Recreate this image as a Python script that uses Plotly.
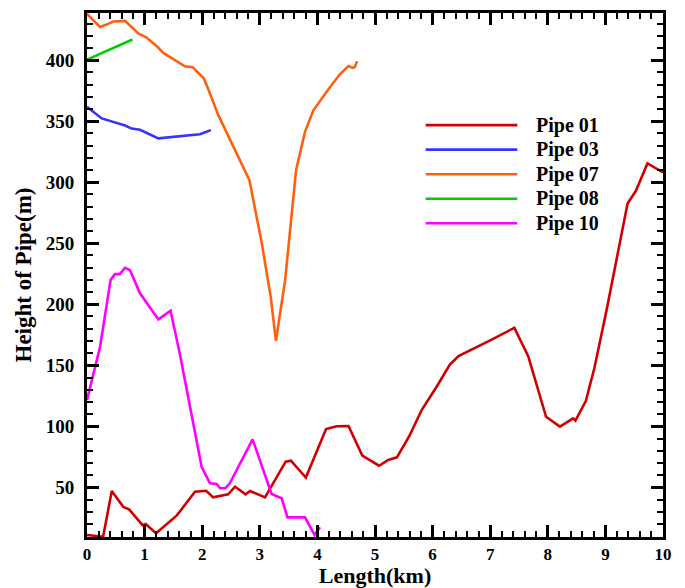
import plotly.graph_objects as go

# ---- data ----
pipe01_x = [0.0, 0.28, 0.43, 0.63, 0.73, 0.965, 1.02, 1.2, 1.56, 1.875, 2.07, 2.19, 2.45, 2.57, 2.755,
            2.83, 3.09, 3.45, 3.54, 3.80, 4.15, 4.335, 4.54, 4.78, 5.07, 5.23, 5.38, 5.59, 5.81, 6.07,
            6.30, 6.45, 7.0, 7.42, 7.66, 7.97, 8.21, 8.44, 8.48, 8.66, 8.81, 9.02, 9.385, 9.53, 9.73, 10.0]
pipe01_y = [11, 9.5, 47, 34, 32, 19, 20, 12.3, 27, 46.4, 47.2, 41.8, 44.3, 50.5, 44.3,
            47, 41.8, 71, 71.8, 58, 97.8, 100, 100.2, 76, 67.7, 72.4, 74.6, 91.5, 113.3, 132.4,
            150.6, 157.5, 170.5, 180.7, 157.5, 107.8, 99.7, 106.5, 104.6, 120.7, 148, 195, 282.6, 293, 315.4, 308]

pipe03_x = [0.0, 0.255, 0.66, 0.775, 0.92, 1.24, 1.96, 2.15]
pipe03_y = [361.8, 352.3, 346.5, 344, 343, 336, 339.4, 342.7]

pipe07_x = [0.0, 0.226, 0.34, 0.457, 0.66, 0.89, 1.035, 1.21, 1.325, 1.70, 1.835, 2.03, 2.125, 2.28,
            2.82, 3.03, 3.19, 3.28, 3.44, 3.63, 3.785, 3.93, 4.22, 4.39, 4.54, 4.61, 4.65, 4.69]
pipe07_y = [438, 427.3, 429.2, 431.7, 432.2, 421.9, 418.6, 411.5, 406, 395, 394.3, 385, 374, 355,
            301.7, 251.2, 206, 170, 219.8, 310, 341.3, 359, 378, 388.5, 395.3, 393.7, 394.5, 399.2]

pipe08_x = [0.0, 0.79]
pipe08_y = [400.5, 417]

pipe10_x = [0.0, 0.226, 0.41, 0.486, 0.57, 0.66, 0.747, 0.92, 1.24, 1.45, 1.61, 1.99, 2.135, 2.25,
            2.31, 2.40, 2.48, 2.875, 3.205, 3.38, 3.48, 3.785, 3.95, 4.045]
pipe10_y = [121.5, 165, 220, 224.7, 224.7, 229.9, 228, 209, 187.6, 194.7, 159.8, 66.9, 53.3, 52.7,
            49.2, 49.2, 53.3, 89.3, 44.5, 41, 25.4, 25.4, 11, 17.3]

names = ["Pipe 01", "Pipe 03", "Pipe 07", "Pipe 08", "Pipe 10"]
colors = ["#D00000", "#3535FF", "#FF6010", "#00CC00", "#FF00FF"]
series = [(pipe01_x, pipe01_y), (pipe03_x, pipe03_y), (pipe07_x, pipe07_y),
          (pipe08_x, pipe08_y), (pipe10_x, pipe10_y)]

FONT = "Liberation Serif, Times New Roman, serif"

fig = go.Figure()
for (xs, ys), n, c in zip(series, names, colors):
    fig.add_trace(go.Scatter(x=xs, y=ys, mode="lines", name=n,
                             line=dict(color=c, width=2.6), showlegend=False))

# manual legend (long line samples like the reference)
leg_x0, leg_x1, leg_tx = 0.588, 0.747, 0.776
leg_y0, leg_dy = 0.786, 0.0468
for i, (n, c) in enumerate(zip(names, colors)):
    yy = leg_y0 - i * leg_dy
    fig.add_shape(type="line", xref="paper", yref="paper", x0=leg_x0, x1=leg_x1, y0=yy, y1=yy,
                  line=dict(color=c, width=2.6))
    fig.add_annotation(xref="paper", yref="paper", x=leg_tx, y=yy, text="<b>" + n + "</b>",
                       showarrow=False, xanchor="left", yanchor="middle",
                       font=dict(family=FONT, size=20, color="black"))

axis_common = dict(showline=True, linewidth=3, linecolor="black", mirror="allticks",
                   ticks="inside", ticklen=12, tickwidth=2.5, tickcolor="black",
                   showgrid=False, zeroline=False)

fig.update_xaxes(range=[0, 10], dtick=1, tick0=0,
                 minor=dict(dtick=0.2, ticks="inside", ticklen=6, tickwidth=1.5, tickcolor="black"),
                 tickfont=dict(family=FONT, size=17, color="black", weight="bold"),
                 title=dict(text="<b>Length(km)</b>", standoff=7,
                            font=dict(family=FONT, size=22, color="black")),
                 **axis_common)
fig.update_yaxes(range=[9.3, 438.7], dtick=50, tick0=0,
                 minor=dict(dtick=10, ticks="inside", ticklen=6, tickwidth=1.5, tickcolor="black"),
                 tickfont=dict(family=FONT, size=19, color="black", weight="bold"),
                 title=dict(text="<b>Height of Pipe(m)</b>", standoff=8,
                            font=dict(family=FONT, size=23, color="black")),
                 ticklabelstandoff=6,
                 **axis_common)

fig.update_layout(width=685, height=588, margin=dict(l=87, r=22, t=13, b=51, autoexpand=False),
                  plot_bgcolor="white", paper_bgcolor="white", font=dict(family=FONT))

fig.write_html("out.html")
